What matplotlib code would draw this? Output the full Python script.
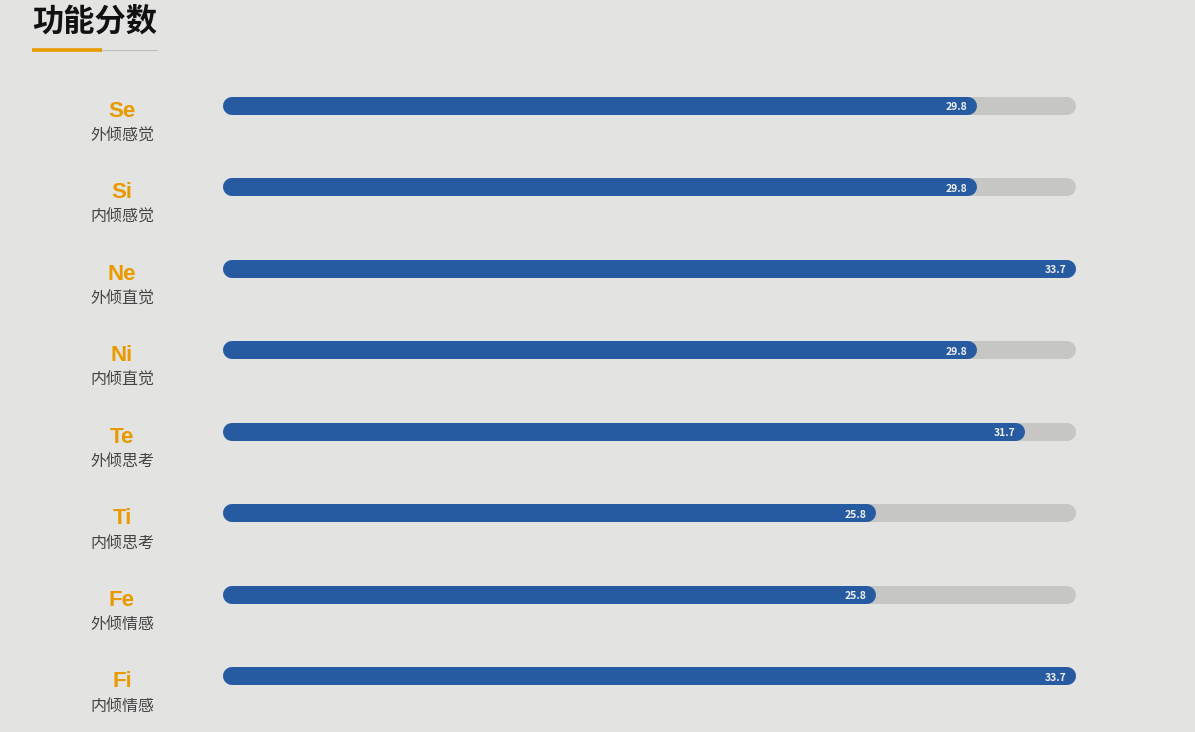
#coding:utf-8
import matplotlib
matplotlib.use("Agg")
import matplotlib.pyplot as plt
from matplotlib.lines import Line2D

plt.rcParams['font.family'] = ['Noto Sans CJK SC', 'DejaVu Sans']

codes = ["Se", "Si", "Ne", "Ni", "Te", "Ti", "Fe", "Fi"]
names = ["外倾感觉", "内倾感觉", "外倾直觉", "内倾直觉", "外倾思考", "内倾思考", "外倾情感", "内倾情感"]
scores = [29.8, 29.8, 33.7, 29.8, 31.7, 25.8, 25.8, 33.7]
max_score = 33.7

W, H = 1195, 732
bg = "#e3e3e1"
fig = plt.figure(figsize=(W / 100, H / 100), dpi=100, facecolor=bg)

# bar area in pixels
left_px, right_px = 223, 1076
top_px, bot_px = 65, 717
ax = fig.add_axes([left_px / W, 1 - bot_px / H, (right_px - left_px) / W, (bot_px - top_px) / H])
ax.set_facecolor(bg)
ax.set_xlim(0, max_score)
ax.set_ylim(len(codes) - 0.5, -0.5)
ax.axis("off")

bar_px = 18
lw = bar_px * 72 / 100
r = (bar_px / 2) * max_score / (right_px - left_px)  # cap radius in data units

for i, (c, n, v) in enumerate(zip(codes, names, scores)):
    ax.plot([r, max_score - r], [i, i], color="#c6c6c4", lw=lw, solid_capstyle="round")
    ax.plot([r, v - r], [i, i], color="#275ba1", lw=lw, solid_capstyle="round")
    ax.annotate(f"{v}", xy=(v, i), xytext=(-7, -1.2), textcoords="offset points",
                ha="right", va="center", fontsize=7.5, color="#f0f0f0", fontweight="bold")
    xl = (122 - left_px) * max_score / (right_px - left_px)
    ax.text(xl, i + 0.065, c, ha="center", va="center", fontsize=16, fontweight="bold",
            color="#e89a00", family=["Liberation Sans", "DejaVu Sans"], clip_on=False)
    ax.text(xl, i + 0.37, n, ha="center", va="center", fontsize=11.5, color="#444444", clip_on=False)

fig.text(32 / W, 1 - 22 / H, "功能分数", ha="left", va="center", fontsize=22.5,
         fontweight="bold", color="#111111")
fig.add_artist(Line2D([102 / W, 157 / W], [1 - 50 / H, 1 - 50 / H], color="#bdbdbb", lw=0.8))
fig.add_artist(Line2D([32 / W, 102 / W], [1 - 50 / H, 1 - 50 / H], color="#e89a00", lw=2.6,
                      solid_capstyle="butt"))

fig.savefig("out.png", dpi=100, facecolor=bg)
